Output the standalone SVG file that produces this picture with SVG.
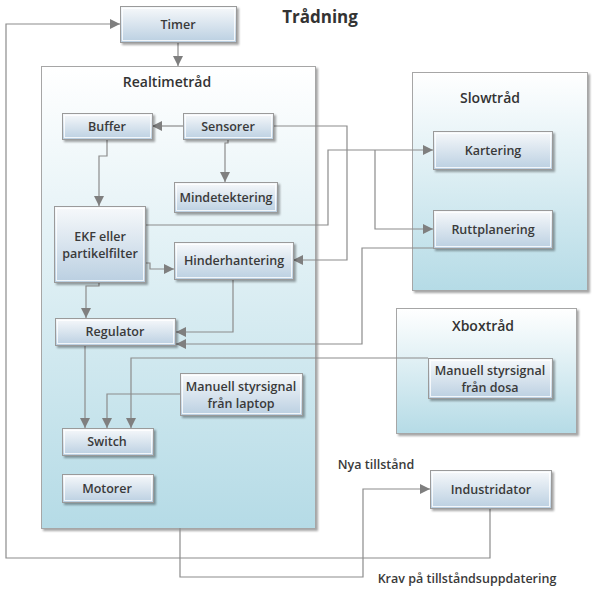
<svg xmlns="http://www.w3.org/2000/svg" width="597" height="591" viewBox="0 0 597 591">
<defs>
<linearGradient id="ng" x1="0" y1="0" x2="0" y2="1">
<stop offset="0" stop-color="#f7f9fb"/>
<stop offset="1" stop-color="#bacfe1"/>
</linearGradient>
<linearGradient id="cg" x1="0" y1="0" x2="0" y2="1">
<stop offset="0" stop-color="#ffffff"/>
<stop offset="1" stop-color="#b5dbe6"/>
</linearGradient>
<filter id="sh" x="-10%" y="-10%" width="130%" height="130%">
<feDropShadow dx="2" dy="2" stdDeviation="1" flood-color="#000" flood-opacity="0.35"/>
</filter>
<marker id="ar" viewBox="0 0 10 10" refX="10" refY="5" markerWidth="10" markerHeight="10" markerUnits="userSpaceOnUse" orient="auto">
<path d="M0,0 L10,5 L0,10 Z" fill="#7f7f7f"/>
</marker>
<style>
.c{fill:url(#cg);stroke:#a6a6a6;stroke-width:1;filter:url(#sh)}
.n{fill:url(#ng);stroke:#9a9a9a;stroke-width:1;filter:url(#sh)}
.ni{fill:none;stroke:#ffffff;stroke-width:1;opacity:0.8}
.t{font-family:"Open Sans","Noto Sans","DejaVu Sans",sans-serif;font-weight:600;font-size:12.5px;fill:#3a3a3a;text-anchor:middle}
.h{font-family:"Open Sans","Noto Sans","DejaVu Sans",sans-serif;font-weight:600;font-size:14px;fill:#333;text-anchor:middle}
.l{fill:none;stroke:#8c8c8c;stroke-width:1.2}
.la{fill:none;stroke:#8c8c8c;stroke-width:1.2;marker-end:url(#ar)}
</style>
</defs>
<rect width="597" height="591" fill="#ffffff"/>
<text x="320" y="23" class="h" style="font-size:17px;font-weight:700">Trådning</text>

<g id="realtimetrad">
<rect class="c" x="41.5" y="66.5" width="274" height="462"/>
<text x="167" y="87" class="h">Realtimetråd</text>
</g>
<g id="slowtrad">
<rect class="c" x="412.5" y="72.5" width="175" height="218"/>
<text x="490" y="103" class="h">Slowtråd</text>
</g>
<g id="xboxtrad">
<rect class="c" x="396.5" y="308.5" width="180" height="125"/>
<text x="483" y="331" class="h">Xboxtråd</text>
</g>

<g id="connectors">
<path class="la" d="M178,42 V66"/>
<path class="la" d="M183,126 H152"/>
<path class="la" d="M228,139 V143 H225 V182"/>
<path class="la" d="M107,139 V156 H99 V206"/>
<path class="la" d="M146,263 H150 V269 H174"/>
<path class="la" d="M99,282 V286 H86 V318"/>
<path class="la" d="M274,126 H347 V260 H293"/>
<path class="la" d="M146,225 H328 V150 H433"/>
<path class="la" d="M375,150 V229 H433"/>
<path class="la" d="M233,279 V332 H176"/>
<path class="la" d="M433,248 H362 V344 H176"/>
<path class="la" d="M85,345 V428"/>
<path class="la" d="M180,394 H107 V428"/>
<path class="la" d="M428,358 H131 V428"/>
<path class="la" d="M490,508 V558 H6 V24 H120"/>
<path class="la" d="M180,528 V577 H363 V489 H430"/>
</g>

<g id="timer"><rect class="n" x="120.5" y="6.5" width="116" height="36"/><rect class="ni" x="122.5" y="8.5" width="112" height="32"/><text x="178" y="29" class="t">Timer</text></g>
<g id="buffer"><rect class="n" x="62.5" y="113.5" width="90" height="26"/><rect class="ni" x="64.5" y="115.5" width="86" height="22"/><text x="107" y="131" class="t">Buffer</text></g>
<g id="sensorer"><rect class="n" x="183.5" y="113.5" width="90" height="26"/><rect class="ni" x="185.5" y="115.5" width="86" height="22"/><text x="228" y="131" class="t">Sensorer</text></g>
<g id="mindetektering"><rect class="n" x="174.5" y="182.5" width="103" height="30"/><rect class="ni" x="176.5" y="184.5" width="99" height="26"/><text x="226" y="202" class="t">Mindetektering</text></g>
<g id="ekf"><rect class="n" x="54.5" y="206.5" width="91" height="76"/><rect class="ni" x="56.5" y="208.5" width="87" height="72"/><text x="100" y="241" class="t">EKF eller</text><text x="100" y="258" class="t">partikelfilter</text></g>
<g id="hinderhantering"><rect class="n" x="174.5" y="242.5" width="119" height="37"/><rect class="ni" x="176.5" y="244.5" width="115" height="33"/><text x="234" y="265" class="t">Hinderhantering</text></g>
<g id="regulator"><rect class="n" x="55.5" y="318.5" width="120" height="27"/><rect class="ni" x="57.5" y="320.5" width="116" height="23"/><text x="115" y="336" class="t">Regulator</text></g>
<g id="laptop"><rect class="n" x="180.5" y="373.5" width="122" height="42"/><rect class="ni" x="182.5" y="375.5" width="118" height="38"/><text x="241" y="391" class="t">Manuell styrsignal</text><text x="241" y="408" class="t">från laptop</text></g>
<g id="switch"><rect class="n" x="62.5" y="428.5" width="91" height="27"/><rect class="ni" x="64.5" y="430.5" width="87" height="23"/><text x="107" y="446" class="t">Switch</text></g>
<g id="motorer"><rect class="n" x="62.5" y="474.5" width="91" height="28"/><rect class="ni" x="64.5" y="476.5" width="87" height="24"/><text x="107" y="493" class="t">Motorer</text></g>
<g id="kartering"><rect class="n" x="433.5" y="131.5" width="119" height="38"/><rect class="ni" x="435.5" y="133.5" width="115" height="34"/><text x="493" y="155" class="t">Kartering</text></g>
<g id="ruttplanering"><rect class="n" x="433.5" y="210.5" width="119" height="38"/><rect class="ni" x="435.5" y="212.5" width="115" height="34"/><text x="493" y="234" class="t">Ruttplanering</text></g>
<g id="dosa"><rect class="n" x="428.5" y="358.5" width="124" height="40"/><rect class="ni" x="430.5" y="360.5" width="120" height="36"/><text x="490" y="375" class="t">Manuell styrsignal</text><text x="490" y="392" class="t">från dosa</text></g>
<g id="industridator"><rect class="n" x="430.5" y="470.5" width="121" height="38"/><rect class="ni" x="432.5" y="472.5" width="117" height="34"/><text x="491" y="494" class="t">Industridator</text></g>

<text x="376" y="469" class="t">Nya tillstånd</text>
<text x="467" y="583" class="t">Krav på tillståndsuppdatering</text>
</svg>
